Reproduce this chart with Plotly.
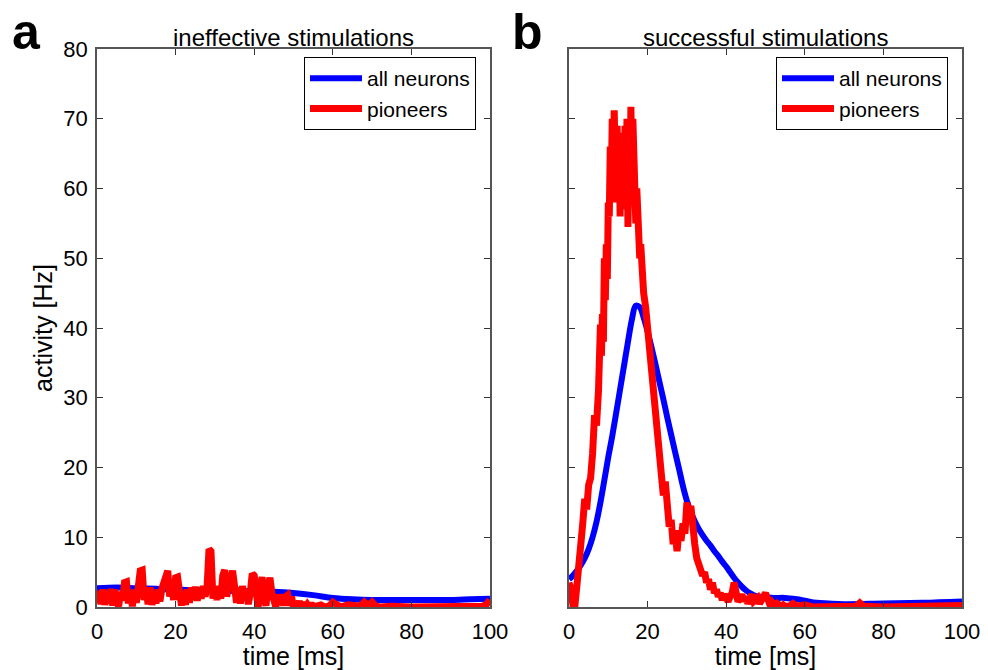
import plotly.graph_objects as go

# ---------------- data ----------------
# panel a: ineffective stimulations (pioneers sampled every 0.5 ms up to 55 ms)
t_a_fine = [i * 0.5 for i in range(111)]
red_a_fine = [0.5, 2.3, 0.4, 2.5, 0.3, 2.2, 0.5, 2.6, 0.2, 2.5,
              0.8, 0.1, 2.2, 0.9, 3.5, 3.6, 0.5, 2.2, 0.1, 2.5,
              0.6, 4.5, 5.2, 5.3, 1.0, 2.6, 0.4, 2.8, 0.3, 2.2,
              0.5, 2.5, 0.8, 2.6, 3.5, 5.0, 5.2, 1.5, 3.0, 1.0,
              4.2, 4.3, 1.0, 0.2, 2.3, 0.3, 2.5, 0.6, 2.8, 1.0,
              2.9, 0.9, 2.6, 1.2, 3.0, 1.5, 2.8, 8.3, 8.0, 1.2,
              2.8, 1.0, 3.0, 1.2, 4.5, 5.3, 1.5, 2.8, 4.0, 5.2,
              3.0, 0.6, 2.8, 0.5, 3.0, 1.0, 2.6, 0.4, 2.0, 4.8,
              4.5, 1.5, 0.0, 2.2, 4.3, 1.2, 0.2, 3.0, 4.2, 2.0,
              0.5, 0.0, 1.8, 0.3, 1.8, 0.2, 1.5, 1.7, 0.2, 1.5,
              0.0, 0.6, 0.1, 0.8, 0.0, 0.6, 0.0, 0.4, 0.0, 0.5,
              0.0]
t_a_tail = [56, 57, 58, 59, 60, 61, 62, 64, 66, 67, 68, 69, 70, 71, 72, 75, 80, 85, 90, 95, 98, 99, 100]
red_a_tail = [0.1, 0.3, 0.0, 0.1, 0.7, 0.2, 0.0, 0.3, 0.0, 0.1, 0.7, 0.2, 0.7, 0.1, 0.0, 0.1, 0.0, 0.0, 0.0, 0.0, 0.1, 0.3, 1.0]

t_a_blue = [0, 5, 10, 15, 20, 25, 30, 35, 40, 45, 50, 55, 60, 65, 70, 75, 80, 85, 90, 95, 100]
blue_a = [2.7, 2.8, 2.7, 2.6, 2.5, 2.4, 2.4, 2.3, 2.3, 2.2, 2.0, 1.7, 1.3, 1.1, 1.0, 1.0, 1.0, 1.0, 1.0, 1.1, 1.2]

# panel b: successful stimulations
t_b_rise = [0, 0.5, 1, 1.5, 2, 2.5, 3, 3.5, 4, 4.5, 5, 5.5, 6, 6.5, 7, 7.5]
red_b_rise = [3.5, 2.5, 0.3, 0.2, 3.0, 5.5, 8.5, 12.0, 15.5, 14.0, 17.5, 18.5, 22.0, 27.5, 26.0, 31.0]
t_b_peak = [8 + i * 0.25 for i in range(45)]  # 8 .. 19 ms every 0.25 ms
red_b_peak = [40.5, 36.0, 42.0, 38.0, 50.0, 44.0, 52.0, 47.0, 58.0, 56.0,
              66.0, 60.0, 70.0, 62.0, 71.2, 64.0, 58.0, 69.0, 60.0, 68.0,
              56.0, 66.0, 58.0, 67.0, 57.0, 69.0, 60.0, 70.0, 54.5, 64.0,
              58.0, 71.7, 62.0, 70.0, 58.0, 67.0, 55.0, 60.0, 52.0, 55.0,
              50.0, 52.0, 47.0, 48.0, 45.0]
t_b_fall = [19.5 + i * 0.5 for i in range(72)]  # 19.5 .. 55 ms
red_b_fall = [43.0, 40.0, 36.5, 33.0, 29.0, 25.5, 23.0, 20.5, 18.0, 16.0,
              18.0, 13.0, 11.5, 12.5, 9.0, 10.5, 8.0, 11.0, 9.5, 12.0,
              10.5, 15.0, 12.0, 14.5, 10.0, 9.0, 7.0, 6.0, 5.5, 4.5,
              5.0, 3.5, 4.0, 2.5, 3.5, 2.0, 2.5, 1.5, 2.0, 1.0,
              1.8, 1.2, 0.8, 1.5, 2.0, 3.5, 1.5, 0.8, 1.2, 1.8,
              0.8, 1.5, 0.5, 1.2, 1.8, 0.8, 1.0, 1.3, 0.5, 1.0,
              1.5, 2.0, 1.2, 0.5, 0.8, 0.3, 0.2, 0.5, 0.2, 0.1,
              0.3, 0.1]
t_b_tail = [56, 57, 58, 60, 62, 65, 70, 73, 74, 75, 80, 90, 100]
red_b_tail = [0.1, 0.5, 0.1, 0.3, 0.0, 0.0, 0.0, 0.1, 0.6, 0.1, 0.0, 0.0, 0.2]

t_b_blue = [0, 1, 2, 3, 4, 5, 6, 7, 8, 9, 10, 11, 12, 13, 14, 15, 16, 17, 18, 19,
            20, 21, 22, 23, 24, 25, 26, 27, 28, 29, 30, 31, 32, 33, 34, 35, 36, 37, 38, 39,
            40, 41, 42, 43, 44, 45, 46, 47, 48, 50, 52, 55, 58, 60, 63, 66, 70, 80, 90, 100]
blue_b = [4.0, 4.5, 5.2, 6.0, 7.0, 8.3, 10.0, 12.2, 15.0, 18.2, 21.5, 24.5, 27.8, 31.2, 34.6, 38.0, 41.2, 43.2, 43.0, 41.5,
          39.5, 37.2, 34.8, 32.3, 29.8, 27.2, 24.7, 22.2, 19.8, 17.3, 15.2, 13.6, 12.3, 11.2, 10.3, 9.5, 8.8, 8.0, 7.3, 6.5,
          5.8, 5.0, 4.2, 3.5, 2.9, 2.4, 2.0, 1.7, 1.5, 1.4, 1.3, 1.3, 1.1, 0.9, 0.6, 0.5, 0.4, 0.5, 0.6, 0.8]

x_ticks = [0, 20, 40, 60, 80, 100]
y_ticks = [0, 10, 20, 30, 40, 50, 60, 70, 80]
series_names = ["all neurons", "pioneers"]
panel_titles = ["ineffective stimulations", "successful stimulations"]
panel_letters = ["a", "b"]

BLUE = "#0000ff"
RED = "#ff0000"
FONT = "Liberation Sans, Arial, sans-serif"

# ---------------- layout geometry (pixels) ----------------
W, H = 988, 670
ML, MR, MT, MB = 97, 26, 49, 63
PW, PH = W - ML - MR, H - MT - MB


def px(x):
    return (x - ML) / PW


def py(y):
    return (H - MB - y) / PH


xdom_a = [0, px(490)]
xdom_b = [px(569), 1]

# ---------------- figure ----------------
fig = go.Figure()

fig.add_trace(go.Scatter(x=t_a_blue, y=blue_a, mode="lines", name=series_names[0],
                         line=dict(color=BLUE, width=6, shape="spline"), xaxis="x", yaxis="y",
                         legend="legend", legendgroup="a1"))
fig.add_trace(go.Scatter(x=t_a_fine + t_a_tail, y=red_a_fine + red_a_tail, mode="lines", name=series_names[1],
                         line=dict(color=RED, width=7), xaxis="x", yaxis="y", legend="legend",
                         legendgroup="a2"))
fig.add_trace(go.Scatter(x=t_b_blue, y=blue_b, mode="lines", name=series_names[0],
                         line=dict(color=BLUE, width=6, shape="spline"), xaxis="x2", yaxis="y2",
                         legend="legend2", legendgroup="b1"))
fig.add_trace(go.Scatter(x=t_b_rise + t_b_peak + t_b_fall + t_b_tail,
                         y=red_b_rise + red_b_peak + red_b_fall + red_b_tail, mode="lines",
                         name=series_names[1], line=dict(color=RED, width=7), xaxis="x2", yaxis="y2",
                         legend="legend2", legendgroup="b2"))

axis_common = dict(showgrid=False, zeroline=False, showline=True, linecolor="#555555", linewidth=1.5,
                   mirror="allticks", ticks="inside", ticklen=6, tickcolor="#333333", tickwidth=1.2,
                   automargin=False, tickfont=dict(family=FONT, size=22, color="black"))

legend_common = dict(yanchor="top", xanchor="left", bgcolor="white", bordercolor="black", borderwidth=1,
                     font=dict(family=FONT, size=21, color="black"), tracegroupgap=0, itemwidth=52)

fig.update_layout(
    width=W, height=H, margin=dict(l=ML, r=MR, t=MT, b=MB, autoexpand=False),
    paper_bgcolor="white", plot_bgcolor="white",
    font=dict(family=FONT, size=21, color="black"),
    xaxis=dict(domain=xdom_a, range=[0, 100], tickvals=x_ticks, anchor="y",
               title=dict(text="time [ms]", standoff=0, font=dict(size=25)), ticklabelstandoff=4, **axis_common),
    yaxis=dict(domain=[0, 1], range=[0, 80], tickvals=y_ticks, anchor="x",
               title=dict(text="activity [Hz]", standoff=4, font=dict(size=25)), ticklabelstandoff=3, **axis_common),
    xaxis2=dict(domain=xdom_b, range=[0, 100], tickvals=x_ticks, anchor="y2",
                title=dict(text="time [ms]", standoff=0, font=dict(size=25)), ticklabelstandoff=4, **axis_common),
    yaxis2=dict(domain=[0, 1], range=[0, 80], tickvals=y_ticks, anchor="x2", showticklabels=False, **axis_common),
    legend=dict(x=px(304), y=py(57), **legend_common),
    legend2=dict(x=px(776), y=py(57), **legend_common),
    showlegend=True,
)

# panel titles
for dom, title in zip([xdom_a, xdom_b], panel_titles):
    fig.add_annotation(x=(dom[0] + dom[1]) / 2, y=py(37), xref="paper", yref="paper",
                       text=title, showarrow=False, font=dict(family=FONT, size=24, color="black"),
                       xanchor="center", yanchor="middle")

# panel letters
for xpix, letter in zip([10, 510], panel_letters):
    fig.add_annotation(x=px(xpix), y=py(32), xref="paper", yref="paper",
                       text="<b>%s</b>" % letter, showarrow=False,
                       font=dict(family=FONT, size=50, color="black"),
                       xanchor="left", yanchor="middle")

fig.write_html("out.html", config={"displayModeBar": False},
               post_script="document.body.style.margin='0';document.body.style.overflow='hidden';")
